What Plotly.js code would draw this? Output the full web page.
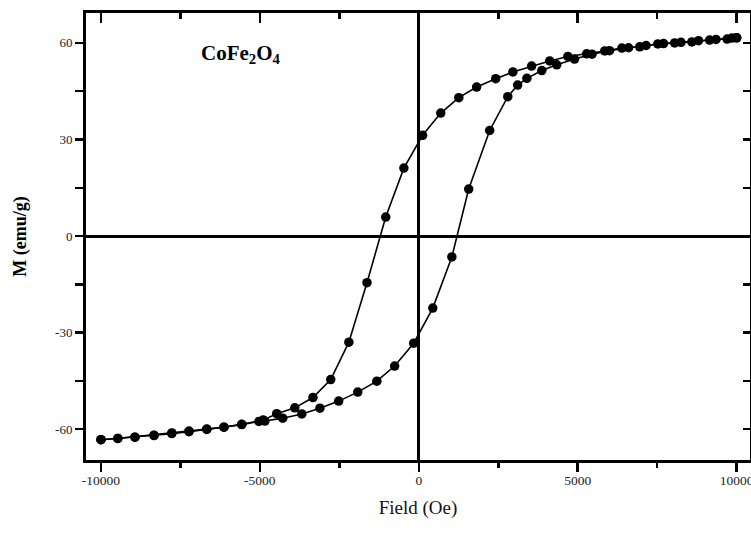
<!DOCTYPE html>
<html>
<head>
<meta charset="utf-8">
<script src="https://cdn.plot.ly/plotly-3.0.1.min.js"></script>
<style>html,body{margin:0;padding:0;background:#fff;}#chart{width:751px;height:539px;}</style>
</head>
<body>
<div id="chart"></div>
<script>
// Descending branch (from +10 kOe down to -10 kOe)
const descField = [10000, 9700, 9150, 8590, 8050, 7520, 6950, 6390, 5850, 5280, 4690, 4120, 3550, 2960, 2420, 1820, 1260, 690, 120, -470, -1040, -1630, -2200, -2770, -3330, -3900, -4470, -4900, -5570, -6130, -6670, -7230, -7770, -8330, -8930, -9470, -10000];
const descM = [61.6, 61.2, 60.9, 60.3, 60.0, 59.7, 58.8, 58.4, 57.5, 56.6, 55.8, 54.4, 52.8, 51.0, 48.9, 46.3, 43.0, 38.2, 31.3, 21.1, 5.9, -14.5, -33.0, -44.6, -50.2, -53.4, -55.2, -57.2, -58.5, -59.4, -60.0, -60.6, -61.2, -61.9, -62.5, -62.9, -63.3];
// Ascending branch (from -10 kOe up to +10 kOe)
const ascField = [-10000, -9470, -8930, -8330, -7770, -7230, -6670, -6130, -5570, -5030, -4840, -4280, -3680, -3110, -2520, -1920, -1320, -760, -160, 440, 1040, 1570, 2230, 2800, 3110, 3400, 3870, 4340, 4900, 5450, 6000, 6600, 7150, 7700, 8250, 8800, 9350, 9850, 10000];
const ascM = [-63.3, -62.9, -62.5, -62.0, -61.4, -60.8, -60.1, -59.4, -58.6, -57.6, -57.5, -56.6, -55.3, -53.5, -51.3, -48.5, -45.1, -40.4, -33.3, -22.4, -6.5, 14.6, 32.8, 43.3, 46.9, 49.0, 51.4, 53.2, 55.0, 56.5, 57.6, 58.5, 59.2, 59.8, 60.2, 60.7, 61.1, 61.5, 61.6];

const xTicks = [-10000, -5000, 0, 5000, 10000];
const xTickText = ['-10000', '-5000', '0', '5000', '10000'];
const yTicks = [-60, -30, 0, 30, 60];
const yTickText = ['-60', '-30', '0', '30', '60'];

const FONT = '"Liberation Serif", "Times New Roman", serif';
const xRange = [-10470, 10420];
const yRange = [-69.6, 69.3];

const mk = {color: '#000', size: 9.5, symbol: 'circle'};
const ln = {color: '#000', width: 1.6};

const traces = [
  {x: descField, y: descM, mode: 'lines+markers', marker: mk, line: ln, showlegend: false, hoverinfo: 'skip'},
  {x: ascField, y: ascM, mode: 'lines+markers', marker: mk, line: ln, showlegend: false, hoverinfo: 'skip'},
  {x: [0], y: [0], xaxis: 'x2', yaxis: 'y2', mode: 'markers', marker: {opacity: 0}, showlegend: false, hoverinfo: 'skip'}
];

const layout = {
  width: 751, height: 539,
  margin: {l: 86, r: 1, t: 13, b: 79},
  paper_bgcolor: '#fff', plot_bgcolor: '#fff',
  font: {family: FONT, color: '#000'},
  xaxis: {
    range: xRange, tickvals: xTicks, ticktext: xTickText, ticklabeloverflow: 'allow',
    ticks: 'outside', ticklen: 9, tickwidth: 2.5, tickcolor: '#000', ticklabelstandoff: -3,
    minor: {tickvals: [-7500, -2500, 2500, 7500], ticks: 'outside', ticklen: 5, tickwidth: 2.5, tickcolor: '#000', showgrid: false},
    showline: true, linewidth: 3, linecolor: '#000', mirror: true,
    showgrid: false, zeroline: true, zerolinewidth: 3, zerolinecolor: '#000',
    tickfont: {size: 13.5, family: FONT, color: '#222'},
    title: {text: 'Field (Oe)', font: {size: 19, family: FONT, color: '#111'}, standoff: 14}
  },
  yaxis: {
    range: yRange, tickvals: yTicks, ticktext: yTickText,
    ticks: 'outside', ticklen: 8, tickwidth: 2.5, tickcolor: '#000',
    minor: {tickvals: [-45, -15, 15, 45], ticks: 'outside', ticklen: 8, tickwidth: 2.5, tickcolor: '#000', showgrid: false},
    showline: true, linewidth: 3, linecolor: '#000', mirror: true,
    showgrid: false, zeroline: true, zerolinewidth: 3, zerolinecolor: '#000',
    tickfont: {size: 13, family: FONT, color: '#222'},
    title: {text: '<b>M (emu/g)</b>', font: {size: 18, family: FONT, color: '#000'}, standoff: 24}
  },
  xaxis2: {
    overlaying: 'x', side: 'top', anchor: 'y2', range: xRange, tickvals: xTicks,
    showticklabels: false, ticks: 'inside', ticklen: 10, tickwidth: 2.5, tickcolor: '#000',
    minor: {tickvals: [-7500, -2500, 2500, 7500], ticks: 'inside', ticklen: 6, tickwidth: 2.5, tickcolor: '#000'},
    showgrid: false, zeroline: false, showline: false
  },
  yaxis2: {
    overlaying: 'y', side: 'right', anchor: 'x2', range: yRange, tickvals: yTicks,
    showticklabels: false, ticks: 'inside', ticklen: 7, tickwidth: 2.5, tickcolor: '#000',
    minor: {tickvals: [-45, -15, 15, 45], ticks: 'inside', ticklen: 7, tickwidth: 2.5, tickcolor: '#000'},
    showgrid: false, zeroline: false, showline: false
  },
  annotations: [
    {text: '<b>CoFe<sub>2</sub>O<sub>4</sub></b>', xref: 'x', yref: 'y', x: -6900, y: 56.5,
     xanchor: 'left', yanchor: 'middle', showarrow: false, font: {size: 21, family: FONT, color: '#000'}}
  ]
};

Plotly.newPlot('chart', traces, layout, {staticPlot: true, displayModeBar: false});
</script>
</body>
</html>
